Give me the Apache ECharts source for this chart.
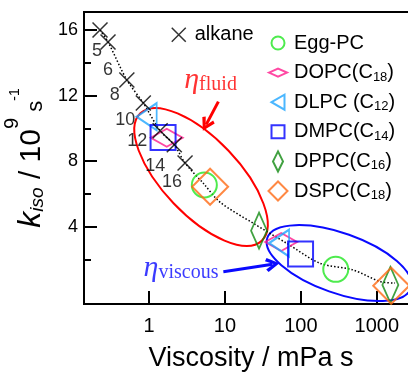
<!DOCTYPE html>
<html>
<head>
<meta charset="utf-8">
<title>k_iso vs viscosity</title>
<script src="https://cdn.jsdelivr.net/npm/echarts@6.0.0/dist/echarts.min.js"></script>
<style>
  html, body { margin: 0; padding: 0; background: #ffffff; }
  #chart { width: 408px; height: 372px; }
</style>
</head>
<body>
<div id="chart"></div>
<script>
// ---- values ----
const alkaneLabels = ['5', '6', '8', '10', '12', '14', '16'];
const alkaneVisc = [0.226, 0.288, 0.51, 0.84, 1.40, 2.15, 2.98];
const alkaneK = [16.0, 15.27, 12.95, 11.55, 9.85, 9.0, 7.89];

// dotted guide curve
const fitVisc = [0.226, 0.288, 0.51, 0.84, 1.40, 2.15, 2.98, 5.3, 8.6, 23.6, 65, 179, 490, 1100, 1740];
const fitK = [16.0, 15.27, 12.95, 11.55, 9.85, 9.0, 7.89, 6.6, 5.5, 4.21, 2.99, 1.77, 1.36, 0.66, 0.56];

// lipids: [viscosity, k_iso], fluid point then viscous point
const eggPC = [[5.35, 6.55], [288, 1.40]];
const dopc = [[1.71, 9.43], [55, 3.07]];
const dlpc = [[0.93, 10.71], [51.6, 3.0]];
const dmpc = [[1.53, 9.44], [99, 2.34]];
const dppc = [[28.1, 3.76], [1510, 0.45]];
const dspc = [[6.37, 6.44], [1550, 0.40]];

const xTickValues = [1, 10, 100, 1000];
const yTickValues = [4, 8, 12, 16];
const yMinorTickValues = [2, 6, 10, 14];

// annotations, in data coordinates
const fluidEllipse = [0.768, 10.92, 30.5, 3.15];     // ends of the long axis
const viscousEllipse = [36.2, 3.33, 2805, 0.24];
const fluidArrow = [[8.19, 11.63], [5.65, 10.23]];
const viscousArrow = [[9.52, 1.26], [42.3, 1.71]];
const fluidLabelAt = [6.46, 13.23];
const viscousLabelAt = [2.64, 1.76];

// ---- styles ----
const sans = '"Liberation Sans", Arial, sans-serif';
const serif = '"Liberation Serif", "Times New Roman", serif';
const red = '#ff0000';
const blue = '#0a0aff';
const alkaneLabelOffsets = [[-3, 21], [0, 28], [-12, 15], [-18, 17], [-23, 10], [-19, 21], [-13, 19]];
const ellipseColors = [red, blue];
const ellipseMinor = [38, 30];
const arrowHead = 'path://M5,0L10,9L8,10.5L5,4.5L2,10.5L0,9Z';
const frame = 'M0,0L0,0M22,22L22,22';  // keeps legend icons at their real size

let chart = echarts.init(document.getElementById('chart'));

function lipid(name, pts, color, symbol, size, rotate) {
  return {
    name: name,
    type: 'scatter',
    data: pts,
    symbol: symbol,
    symbolSize: size,
    symbolRotate: rotate || 0,
    itemStyle: { color: 'rgba(0,0,0,0)', borderColor: color, borderWidth: 2 },
    z: 4
  };
}

chart.setOption({
  animation: false,
  grid: {
    left: 84, top: 12, right: -10, bottom: 68,
    show: true, borderColor: '#000', borderWidth: 2,
    containLabel: false, outerBoundsMode: 'none'
  },
  legend: [
    {
      data: [{ name: 'alkane', icon: 'path://' + frame + 'M4,4L18,18M18,4L4,18' }],
      left: 167, top: 23, padding: 0,
      itemWidth: 22, itemHeight: 22,
      selectedMode: false,
      itemStyle: { borderWidth: 1.5 },
      textStyle: { fontSize: 20, color: '#000', fontFamily: sans }
    },
    {
      orient: 'vertical',
      left: 266, top: 31, padding: 0,
      itemWidth: 22, itemHeight: 22, itemGap: 5.6,
      selectedMode: false,
      itemStyle: { borderWidth: 2 },
      data: [
        { name: 'Egg-PC', icon: 'path://' + frame + 'M4.5,11A6.5,6.5,0,1,1,17.5,11A6.5,6.5,0,1,1,4.5,11Z' },
        { name: 'DOPC(C18)', icon: 'path://' + frame + 'M2,11L11,7L20,11L11,15Z' },
        { name: 'DLPC (C12)', icon: 'path://' + frame + 'M4.5,11L17.5,3.5L17.5,18.5Z' },
        { name: 'DMPC(C14)', icon: 'path://' + frame + 'M4.5,4.5L17.5,4.5L17.5,17.5L4.5,17.5Z' },
        { name: 'DPPC(C16)', icon: 'path://' + frame + 'M11,1L16,11L11,21L6,11Z' },
        { name: 'DSPC(C18)', icon: 'path://' + frame + 'M1.5,11L11,1.5L20.5,11L11,20.5Z' }
      ],
      formatter: function (name) {
        return name.replace(/C(\d+)\)$/, 'C{s|$1})');
      },
      textStyle: {
        fontSize: 20, color: '#000', fontFamily: sans, lineHeight: 22,
        rich: { s: { fontSize: 13, fontFamily: sans, color: '#000', verticalAlign: 'bottom', lineHeight: 5 } }
      }
    }
  ],
  xAxis: {
    type: 'log',
    logBase: 10,
    min: 0.139,
    max: 3490,
    axisLine: { onZero: false, lineStyle: { color: '#000', width: 2 } },
    axisTick: { inside: true, length: 13, customValues: xTickValues, lineStyle: { color: '#000', width: 2 } },
    axisLabel: {
      customValues: xTickValues, fontSize: 20, color: '#000', margin: 12, fontFamily: sans,
      formatter: v => String(v)
    },
    minorTick: { show: false },
    splitLine: { show: false },
    name: 'Viscosity / mPa s',
    nameLocation: 'middle',
    nameGap: 41,
    nameTextStyle: { fontSize: 27, color: '#000', fontFamily: sans }
  },
  yAxis: [
    {
      type: 'value',
      min: -0.714,
      max: 17.1,
      axisLine: { onZero: false, lineStyle: { color: '#000', width: 2 } },
      axisTick: { inside: true, length: 13, customValues: yTickValues, lineStyle: { color: '#000', width: 2 } },
      axisLabel: { customValues: yTickValues, fontSize: 18, color: '#000', margin: 6, fontFamily: sans },
      splitLine: { show: false },
      name: '{k|k}{i|iso}{n| / 10}{p|9}{s| s}{q|-1}',
      nameLocation: 'middle',
      nameRotate: 90,
      nameGap: 27,
      nameTextStyle: {
        color: '#000', fontFamily: sans,
        rich: {
          k: { fontSize: 32, fontStyle: 'italic', fontFamily: sans, verticalAlign: 'bottom', lineHeight: 50 },
          i: { fontSize: 19, fontStyle: 'italic', fontFamily: sans, verticalAlign: 'bottom', lineHeight: 31 },
          n: { fontSize: 30, fontFamily: sans, verticalAlign: 'bottom', lineHeight: 49 },
          p: { fontSize: 20, fontFamily: sans, verticalAlign: 'top', padding: [5, 0, 0, 0] },
          s: { fontSize: 22, fontFamily: sans, verticalAlign: 'bottom', lineHeight: 43 },
          q: { fontSize: 14, fontFamily: sans, verticalAlign: 'top', padding: [11, 0, 0, 0] }
        }
      }
    },
    {
      type: 'value',
      min: -0.714,
      max: 17.1,
      position: 'left',
      axisLine: { show: false, onZero: false },
      axisLabel: { show: false },
      splitLine: { show: false },
      axisTick: { inside: true, length: 7, customValues: yMinorTickValues, lineStyle: { color: '#000', width: 2 } }
    }
  ],
  series: [
    {
      type: 'custom',
      name: 'ellipses',
      silent: true,
      z: 2,
      data: [fluidEllipse, viscousEllipse],
      encode: { x: [0, 2], y: [1, 3] },
      renderItem: function (params, api) {
        let a = api.coord([api.value(0), api.value(1)]);
        let b = api.coord([api.value(2), api.value(3)]);
        return {
          type: 'ellipse',
          x: (a[0] + b[0]) / 2,
          y: (a[1] + b[1]) / 2,
          rotation: -Math.atan2(b[1] - a[1], b[0] - a[0]),
          shape: { cx: 0, cy: 0, rx: Math.hypot(b[0] - a[0], b[1] - a[1]) / 2, ry: ellipseMinor[params.dataIndex] },
          style: { fill: 'none', stroke: ellipseColors[params.dataIndex], lineWidth: 2 }
        };
      }
    },
    {
      type: 'line',
      name: 'fit',
      silent: true,
      data: fitVisc.map((v, i) => [v, fitK[i]]),
      symbol: 'none',
      smooth: 0.3,
      lineStyle: { color: '#000', width: 1.5, type: [1.5, 2] },
      z: 3
    },
    {
      name: 'alkane',
      type: 'scatter',
      symbol: 'path://M0,0L10,10M10,0L0,10',
      symbolSize: 15,
      itemStyle: { color: '#000', borderColor: '#000', borderWidth: 1.5 },
      data: alkaneVisc.map((v, i) => ({ value: [v, alkaneK[i]], label: { offset: alkaneLabelOffsets[i] } })),
      label: {
        show: true, position: 'inside',
        formatter: p => alkaneLabels[p.dataIndex],
        fontSize: 18, color: '#000', fontFamily: sans
      },
      z: 5
    },
    lipid('Egg-PC', eggPC, '#22e622', 'circle', 25),
    lipid('DOPC(C18)', dopc, '#ff1a8c', 'diamond', [32, 18]),
    lipid('DLPC (C12)', dlpc, '#1ea5ff', 'triangle', [27, 20], 90),
    lipid('DMPC(C14)', dmpc, '#0000ff', 'rect', 25),
    lipid('DPPC(C16)', dppc, '#128a12', 'diamond', [16, 36]),
    lipid('DSPC(C18)', dspc, '#ff6a14', 'diamond', [36, 36]),
    {
      type: 'lines',
      coordinateSystem: 'cartesian2d',
      silent: true,
      z: 6,
      symbol: ['none', arrowHead],
      symbolSize: 14,
      lineStyle: { width: 3, opacity: 1 },
      data: [
        { coords: fluidArrow, lineStyle: { color: red } },
        { coords: viscousArrow, lineStyle: { color: blue } }
      ]
    },
    {
      type: 'scatter',
      name: 'notes',
      silent: true,
      symbolSize: 1,
      itemStyle: { color: 'rgba(0,0,0,0)' },
      z: 6,
      data: [
        { value: fluidLabelAt, label: { formatter: '{e|η}{f|fluid}' } },
        { value: viscousLabelAt, label: { formatter: '{E|η}{F|viscous}' } }
      ],
      label: {
        show: true, position: 'inside',
        rich: {
          e: { fontSize: 30, fontStyle: 'italic', fontFamily: serif, color: red, verticalAlign: 'bottom', lineHeight: 39 },
          f: { fontSize: 20, fontFamily: serif, color: red, verticalAlign: 'bottom', lineHeight: 20 },
          E: { fontSize: 30, fontStyle: 'italic', fontFamily: serif, color: blue, verticalAlign: 'bottom', lineHeight: 39 },
          F: { fontSize: 20, fontFamily: serif, color: blue, verticalAlign: 'bottom', lineHeight: 20 }
        }
      }
    }
  ]
});
</script>
</body>
</html>
